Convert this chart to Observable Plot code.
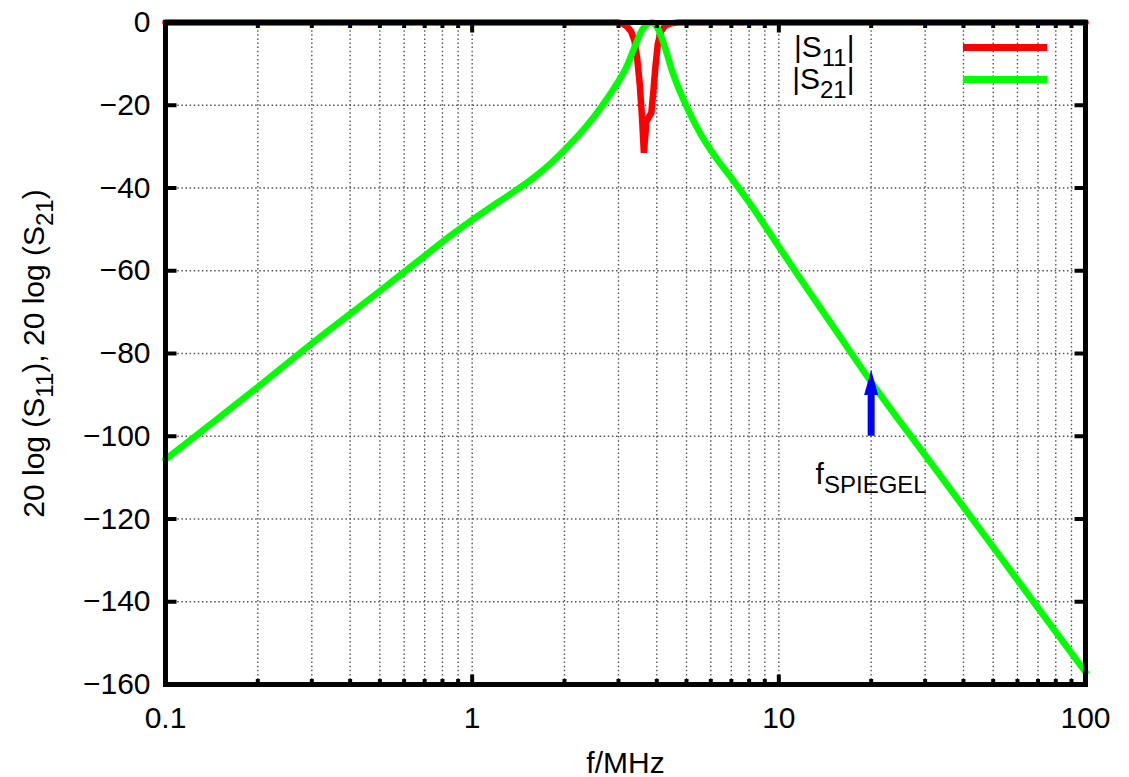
<!DOCTYPE html>
<html>
<head>
<meta charset="utf-8">
<script src="https://cdn.jsdelivr.net/npm/d3@7"></script>
<script src="https://cdn.jsdelivr.net/npm/@observablehq/plot@0.6"></script>
<style>
  html, body { margin: 0; padding: 0; background: #fff; }
</style>
</head>
<body>
<script>
// Frequency response of the band-pass filter: reflection |S11| and transmission |S21| in dB.
const s11Freq = [0.1, 3.0, 3.1, 3.2, 3.3, 3.38, 3.45, 3.52, 3.58, 3.63, 3.70, 3.76, 3.84, 3.90, 3.96, 4.03, 4.12, 4.25, 4.45, 4.7, 100];
const s11dB   = [0, 0, -0.3, -1.0, -2.2, -4.3, -8.5, -15, -23.0, -31.5, -24.0, -23.0, -21.8, -16.5, -10.5, -5.2, -2.3, -0.8, -0.2, 0, 0];

const s21Freq = [0.1, 0.15, 0.2, 0.3, 0.5, 0.7, 0.85, 1, 1.2, 1.4, 1.6, 1.8, 2, 2.25, 2.5, 2.8, 3, 3.2, 3.4, 3.6, 3.73, 3.85, 4, 4.2, 4.5, 5, 5.6, 6, 6.4, 7, 7.5, 8, 9, 10, 11.5, 15, 20, 30, 50, 70, 100];
const s21dB   = [-105.6, -95.4, -88.1, -77.6, -64.9, -56.4, -51.5, -47.7, -43.7, -40.4, -37.3, -34.1, -30.8, -26.8, -22.7, -17.6, -14.2, -10.4, -5.6, -1.5, -0.3, 0, -1.0, -4.8, -12.0, -20.3, -27.4, -30.9, -33.8, -37.6, -40.6, -43.5, -49.1, -54.2, -60.9, -73.4, -86.9, -104.6, -126.8, -141.5, -157.0];

const seriesNames  = ["|S_{11}|", "|S_{21}|"];
const seriesColors = ["#ff0000", "#00ff00"];

// Axis ticks and labels
const xMajor = [0.1, 1, 10, 100];
const xMajorLabels = ["0.1", "1", "10", "100"];
const xMinor = [0.2, 0.3, 0.4, 0.5, 0.6, 0.7, 0.8, 0.9, 2, 3, 4, 5, 6, 7, 8, 9, 20, 30, 40, 50, 60, 70, 80, 90];
const yTicks = [-160, -140, -120, -100, -80, -60, -40, -20, 0];
const yTickLabels = ["−160", "−140", "−120", "−100", "−80", "−60", "−40", "−20", "0"];

// Image-frequency marker
const markerFreq = 20;
const markerFrom = -100;
const markerTo = -84;
const markerLabel = "f_{SPIEGEL}";
const markerLabelLevel = -110;

const xLabel = "f/MHz";
const yLabel = "20 log (S_{11}), 20 log (S_{21})";

const s11 = s11Freq.map((f, i) => ({f, db: s11dB[i]}));
const s21 = s21Freq.map((f, i) => ({f, db: s21dB[i]}));

const FONT = "'Liberation Sans', Arial, Helvetica, sans-serif";

// A short straight stroke, used for the inward tick marks on all four sides.
const tickShape = {draw(context, l) { context.moveTo(0, 0); context.lineTo(0, -l); }};
// Filled arrow head with its tip at the anchor point.
const headSymbol = {draw(context) { context.moveTo(0, 0); context.lineTo(-7, 25); context.lineTo(7, 25); context.closePath(); }};

const tickStyle = {shape: tickShape, anchor: "start", stroke: "black", strokeWidth: 4, strokeLinecap: "butt"};

const chart = Plot.plot({
  width: 1129,
  height: 777,
  marginTop: 22,
  marginRight: 44,
  marginBottom: 93,
  marginLeft: 165,
  style: {fontFamily: FONT, fontSize: "30px", background: "#fff", color: "black"},
  x: {type: "log", domain: [0.1, 100], axis: null},
  y: {domain: [-160, 0], axis: null},
  marks: [
    // dotted grid
    Plot.gridX([...xMinor, ...xMajor], {stroke: "#555", strokeOpacity: 1, strokeWidth: 1.4, strokeDasharray: "1.5,2.6"}),
    Plot.gridY(yTicks, {stroke: "#555", strokeOpacity: 1, strokeWidth: 1.4, strokeDasharray: "1.5,2.6"}),

    // curves
    Plot.line(s11, {x: "f", y: "db", stroke: seriesColors[0], strokeWidth: 6.5, strokeLinejoin: "miter", strokeMiterlimit: 6}),
    Plot.line(s21, {x: "f", y: "db", stroke: seriesColors[1], strokeWidth: 6.5, curve: "monotone-x"}),

    // image-frequency arrow and its label
    Plot.ruleX([markerFreq], {y1: markerFrom, y2: markerTo - 4, stroke: "#0000ff", strokeWidth: 7}),
    Plot.dot([markerFreq], {x: d => d, y: () => markerTo, symbol: headSymbol, fill: "#0000ff", stroke: "none", r: 10}),
    Plot.text([markerLabel], {x: () => markerFreq, y: () => markerLabelLevel, text: d => d, textAnchor: "middle", lineAnchor: "bottom", dy: 6, fill: "black"}),

    // key
    ...seriesNames.map((name, i) => Plot.text([name], {frameAnchor: "top-right", text: d => d, textAnchor: "end", lineAnchor: "bottom", dx: -231, dy: 34 + 32 * i, fill: "black"})),
    ...seriesColors.map((c, i) => Plot.ruleY([0], {stroke: c, strokeWidth: 7, insetLeft: 798, insetRight: 38, dy: 25 + 32 * i})),

    // frame and inward ticks
    Plot.frame({stroke: "black", strokeWidth: 5}),
    Plot.vector(xMajor, {x: d => d, y: () => -160, length: 10, rotate: 0, ...tickStyle}),
    Plot.vector(xMajor, {x: d => d, y: () => 0, length: 10, rotate: 180, ...tickStyle}),
    Plot.vector(xMinor, {x: d => d, y: () => -160, length: 5.5, rotate: 0, ...tickStyle}),
    Plot.vector(xMinor, {x: d => d, y: () => 0, length: 5.5, rotate: 180, ...tickStyle}),
    Plot.vector(yTicks, {x: () => 0.1, y: d => d, length: 11, rotate: 90, ...tickStyle}),
    Plot.vector(yTicks, {x: () => 100, y: d => d, length: 11, rotate: -90, ...tickStyle}),

    // tick labels
    Plot.axisX({ticks: xMajor, tickFormat: d => xMajorLabels[xMajor.indexOf(d)], tickSize: 0, tickPadding: 22, label: null, fill: "black"}),
    Plot.axisY({ticks: yTicks, tickFormat: d => yTickLabels[yTicks.indexOf(d)], tickSize: 0, tickPadding: 15, label: null, fill: "black"}),

    // axis titles
    Plot.text([xLabel], {frameAnchor: "bottom", text: d => d, lineAnchor: "bottom", dy: 88, fill: "black"}),
    Plot.text([yLabel], {frameAnchor: "left", text: d => d, rotate: -90, textAnchor: "middle", lineAnchor: "bottom", dx: -122, fill: "black"})
  ]
});

// Render "_{...}" segments as subscripts.
const SUB_SIZE = 24, SUB_SHIFT = 9.5;
d3.select(chart).selectAll("text").each(function () {
  const t = this.textContent;
  if (!t.includes("_{")) return;
  const parts = t.split(/(_\{[^}]*\})/).filter(p => p.length);
  this.textContent = "";
  let shifted = false;
  for (const p of parts) {
    const ts = document.createElementNS("http://www.w3.org/2000/svg", "tspan");
    if (p.startsWith("_{")) {
      ts.textContent = p.slice(2, -1);
      ts.setAttribute("font-size", SUB_SIZE);
      ts.setAttribute("dy", SUB_SHIFT);
      shifted = true;
    } else {
      ts.textContent = p;
      if (shifted) { ts.setAttribute("dy", -SUB_SHIFT); shifted = false; }
    }
    this.appendChild(ts);
  }
});

document.body.appendChild(chart);
</script>
</body>
</html>
